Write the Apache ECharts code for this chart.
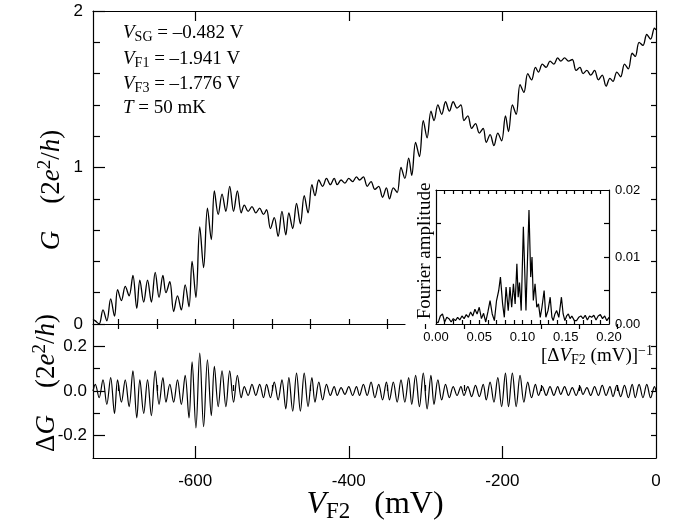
<!DOCTYPE html>
<html>
<head>
<meta charset="utf-8">
<script src="https://cdn.jsdelivr.net/npm/echarts@6/dist/echarts.min.js"></script>
<style>html,body{margin:0;padding:0;background:#fff}#c{width:684px;height:529px}</style>
</head>
<body>
<div id="c"></div>
<script>
// ---- data ----
const vF2 = [
  -733, -730, -725, -720, -715, -710, -705, -701, -696, -691,
  -686, -681, -676, -672, -667, -662, -657, -652, -647, -642,
  -638, -633, -628, -623, -618, -613, -608, -604, -599, -594,
  -589, -584, -579, -575, -570, -565, -560, -555, -550, -545,
  -540, -536, -531, -526, -521, -516, -511, -507, -502, -497,
  -492, -487, -482, -478, -473, -468, -463, -458, -453, -448,
  -444, -439, -434, -429, -424, -419, -415, -410, -405, -400,
  -395, -390, -386, -381, -376, -371, -366, -361, -356, -351,
  -347, -342, -337, -332, -327, -322, -318, -313, -308, -303,
  -298, -293, -289, -284, -279, -274, -269, -264, -259, -254,
  -250, -245, -240, -235, -230, -225, -221, -216, -211, -206,
  -201, -196, -192, -187, -182, -177, -172, -167, -162, -157,
  -153, -148, -143, -138, -133, -128, -124, -119, -114, -109,
  -104, -99, -95, -90, -85, -80, -75, -70, -65, -60,
  -56, -51, -46, -41, -36, -31, -27, -22, -17, -12,
  -7, -2, 0
];
const gValues = [
  0.03, 0.02, 0.00, 0.09, 0.02, 0.16, 0.05, 0.22, 0.15, 0.24,
  0.18, 0.31, 0.10, 0.28, 0.14, 0.28, 0.14, 0.33, 0.17, 0.31,
  0.20, 0.27, 0.08, 0.18, 0.09, 0.25, 0.11, 0.40, 0.17, 0.62,
  0.36, 0.74, 0.54, 0.85, 0.70, 0.83, 0.72, 0.88, 0.72, 0.85,
  0.71, 0.76, 0.72, 0.75, 0.71, 0.74, 0.70, 0.73, 0.61, 0.68,
  0.56, 0.72, 0.57, 0.71, 0.61, 0.77, 0.64, 0.82, 0.71, 0.89,
  0.82, 0.92, 0.88, 0.93, 0.89, 0.93, 0.89, 0.92, 0.90, 0.93,
  0.91, 0.94, 0.92, 0.94, 0.88, 0.91, 0.86, 0.88, 0.81, 0.87,
  0.80, 0.87, 0.84, 1.00, 0.93, 1.06, 0.95, 1.16, 1.07, 1.30,
  1.19, 1.36, 1.30, 1.40, 1.34, 1.42, 1.36, 1.42, 1.38, 1.40,
  1.30, 1.33, 1.25, 1.28, 1.22, 1.25, 1.16, 1.21, 1.14, 1.22,
  1.17, 1.33, 1.23, 1.40, 1.34, 1.53, 1.48, 1.60, 1.56, 1.64,
  1.61, 1.66, 1.64, 1.68, 1.66, 1.70, 1.68, 1.70, 1.68, 1.69,
  1.62, 1.64, 1.60, 1.62, 1.59, 1.62, 1.56, 1.59, 1.52, 1.57,
  1.55, 1.61, 1.58, 1.66, 1.63, 1.73, 1.71, 1.80, 1.78, 1.85,
  1.82, 1.89, 1.88
];
const dgValues = [
  0.00, 0.03, -0.03, 0.05, -0.06, 0.06, -0.10, 0.05, -0.05, 0.05,
  -0.07, 0.09, -0.12, 0.05, -0.10, 0.05, -0.11, 0.09, -0.06, 0.06,
  -0.05, 0.03, -0.05, 0.05, -0.06, 0.07, -0.12, 0.13, -0.165, 0.17,
  -0.16, 0.14, -0.11, 0.11, -0.07, 0.09, -0.07, 0.09, -0.05, 0.07,
  -0.03, 0.02, -0.02, 0.03, -0.02, 0.03, -0.03, 0.03, -0.03, 0.04,
  -0.04, 0.05, -0.08, 0.06, -0.09, 0.08, -0.09, 0.08, -0.07, 0.06,
  -0.05, 0.04, -0.04, 0.03, -0.02, 0.02, -0.02, 0.015, -0.015, 0.02,
  -0.02, 0.02, -0.02, 0.03, -0.02, 0.04, -0.03, 0.03, -0.04, 0.04,
  -0.04, 0.04, -0.05, 0.05, -0.05, 0.06, -0.06, 0.07, -0.07, 0.08,
  -0.08, 0.07, -0.06, 0.05, -0.04, 0.03, -0.03, 0.02, -0.02, 0.02,
  -0.02, 0.02, -0.025, 0.025, -0.025, 0.03, -0.04, 0.04, -0.05, 0.06,
  -0.07, 0.08, -0.07, 0.08, -0.07, 0.07, -0.05, 0.04, -0.03, 0.03,
  -0.02, 0.02, -0.02, 0.02, -0.02, 0.02, -0.015, 0.02, -0.02, 0.015,
  -0.02, 0.02, -0.015, 0.015, -0.02, 0.02, -0.02, 0.025, -0.02, 0.02,
  -0.025, 0.025, -0.025, 0.025, -0.03, 0.03, -0.03, 0.03, -0.03, 0.03,
  -0.03, 0.02, 0.00
];
const fourierFreq = [
  0, 0.0025, 0.005, 0.0075, 0.01, 0.0125, 0.015, 0.0175, 0.02, 0.0225,
  0.025, 0.0275, 0.03, 0.0325, 0.035, 0.0375, 0.04, 0.0425, 0.045, 0.0475,
  0.05, 0.0525, 0.055, 0.0575, 0.06, 0.0625, 0.065, 0.0675, 0.07, 0.0725,
  0.0745, 0.077, 0.079, 0.081, 0.0835, 0.0855, 0.0875, 0.0895, 0.0915, 0.0935,
  0.095, 0.0965, 0.0985, 0.101, 0.104, 0.1075, 0.1095, 0.111, 0.1125, 0.1145,
  0.1165, 0.1185, 0.1205, 0.1225, 0.125, 0.127, 0.1295, 0.132, 0.134, 0.1355,
  0.1375, 0.1395, 0.142, 0.145, 0.147, 0.149, 0.151, 0.153, 0.155, 0.157,
  0.16, 0.1625, 0.165, 0.1675, 0.17, 0.1725, 0.175, 0.1775, 0.18, 0.1825,
  0.185, 0.1875, 0.19, 0.1925, 0.195, 0.1975, 0.2
];
const fourierAmp = [
  0.0003, 0.0002, 0.0012, 0.0015, 0.0003, 0.0010, 0.0008, 0.0003, 0.0008, 0.0005,
  0.0010, 0.0006, 0.0012, 0.0008, 0.0014, 0.0010, 0.0018, 0.0012, 0.0022, 0.0015,
  0.0025, 0.0008, 0.0016, 0.0003, 0.0018, 0.0035, 0.0015, 0.0005, 0.0035, 0.0050,
  0.0070, 0.0030, 0.0010, 0.0055, 0.0020, 0.0055, 0.0025, 0.0060, 0.0030, 0.0090,
  0.0040, 0.0062, 0.0020, 0.0145, 0.0020, 0.0170, 0.0070, 0.0100, 0.0035, 0.0060,
  0.0025, 0.0030, 0.0010, 0.0025, 0.0050, 0.0010, 0.0020, 0.0040, 0.0010, 0.0005,
  0.0015, 0.0020, 0.0010, 0.0040, 0.0015, 0.0005, 0.0012, 0.0015, 0.0008, 0.0012,
  0.0005, 0.0005, 0.0010, 0.0012, 0.0008, 0.0013, 0.0006, 0.0012, 0.0010, 0.0013,
  0.0006, 0.0012, 0.0014, 0.0008, 0.0012, 0.0005, 0.0010
];
// axis ranges and tick values
const xRange = [-733, 0];
const baselineEnd = -327;
const xLabelValues = [-600, -400, -200, 0];
const xMajorTicks = [-600, -400, -200];
const xMinorTicks = [-700, -650, -550, -500, -450, -350, -300, -250, -150, -100, -50];
const baseTicks = [-700, -650, -600, -550, -500, -450, -400, -350];
const gLabelValues = [0, 1, 2];
const gMinorTicks = [0.2, 0.4, 0.6, 0.8, 1.2, 1.4, 1.6, 1.8];
const gRightTicks = [0.2, 0.4, 0.6, 0.8, 1.0, 1.2, 1.4, 1.6, 1.8];
const dgLabelValues = [-0.2, 0, 0.2];
const dgMinorTicks = [-0.1, 0.1];
const dgRightTicks = [-0.2, -0.1, 0, 0.1, 0.2];
const insetXLabels = [0, 0.05, 0.1, 0.15, 0.2];
const insetXTicks = [0.01, 0.02, 0.03, 0.04, 0.05, 0.06, 0.07, 0.08, 0.09, 0.1, 0.11, 0.12, 0.13, 0.14, 0.15, 0.16, 0.17, 0.18, 0.19];
const insetYLabels = [0, 0.01, 0.02];
const insetYTicks = [0.005, 0.01, 0.015];

// ---- chart ----
const SANS = 'Liberation Sans';
const SERIF = 'Liberation Serif';
const BLACK = '#000';

function tick(values, len) {
  return { show: true, inside: true, length: len, customValues: values, lineStyle: { color: BLACK, width: 1.2 } };
}
function lab(values, margin, fmt, size, inside) {
  return { show: true, inside: !!inside, customValues: values, margin: margin, formatter: fmt, color: BLACK, fontFamily: SANS, fontSize: size };
}
function ax(gi, pos, min, max, o) {
  return Object.assign({
    type: 'value', gridIndex: gi, position: pos, min: min, max: max,
    splitLine: { show: false },
    axisLine: { show: true, onZero: false, lineStyle: { color: BLACK, width: 1.2 } },
    axisLabel: { show: false },
    axisTick: { show: false }
  }, o || {});
}
const noLine = { show: false };
const hidden = { show: false };

// rectangles of the panels; the narrow strips carry the inward ticks of the right-hand borders
const upperRect = { left: 93, top: 11, width: 563, height: 313 };
const upperStrip = { left: 651, top: 11, width: 5, height: 313 };
const lowerRect = { left: 93, top: 324, width: 563, height: 134 };
const lowerStrip = { left: 651, top: 324, width: 5, height: 134 };
const baseRect = { left: 93, top: 11, width: 312, height: 313 };
const insetRect = { left: 436, top: 190, width: 173, height: 134 };
const insetStrip = { left: 604, top: 190, width: 5, height: 134 };
const grids = [upperRect, upperRect, upperStrip, baseRect, lowerRect, lowerRect, lowerStrip,
               insetRect, insetRect, insetStrip]
  .map(r => Object.assign({ outerBoundsMode: 'none', containLabel: false }, r));

const xAxes = [
  ax(0, 'top', xRange[0], xRange[1], { axisTick: tick(xMajorTicks, 10) }),
  ax(1, 'top', xRange[0], xRange[1], { axisLine: noLine, axisTick: tick(xMinorTicks, 5) }),
  ax(2, 'bottom', 0, 1, hidden),
  ax(3, 'bottom', xRange[0], baselineEnd, { axisTick: tick(baseTicks, 5) }),
  ax(4, 'bottom', xRange[0], xRange[1], { axisTick: tick(xMajorTicks, 12),
       axisLabel: lab(xLabelValues, 15, v => String(v), 17) }),
  ax(5, 'bottom', xRange[0], xRange[1], { axisLine: noLine, axisTick: tick(xMinorTicks, 6) }),
  ax(6, 'bottom', 0, 1, hidden),
  ax(7, 'bottom', 0, 0.2, { axisTick: tick(insetXTicks, 4),
       axisLabel: lab(insetXLabels, 7, v => Number(v).toFixed(2), 13) }),
  ax(8, 'top', 0, 0.2, { axisTick: tick(insetXTicks, 4) }),
  ax(9, 'bottom', 0, 1, hidden)
];
const yAxes = [
  ax(0, 'left', 0, 2, { axisTick: tick(gLabelValues, 12), axisLabel: lab(gLabelValues, 10, v => String(v), 17) }),
  ax(1, 'right', 0, 2, {}),                                    // right border line of the upper panel
  ax(2, 'left', 0, 2, { axisLine: noLine, axisTick: tick(gRightTicks, 5) }),
  ax(3, 'left', 0, 2, hidden),
  ax(4, 'left', -0.3, 0.3, { axisTick: tick(dgLabelValues, 12),
       axisLabel: lab(dgLabelValues, 6, v => Number(v).toFixed(1), 17) }),
  ax(5, 'right', -0.3, 0.3, {}),                               // right border line of the lower panel
  ax(6, 'left', -0.3, 0.3, { axisLine: noLine, axisTick: tick(dgRightTicks, 5) }),
  ax(7, 'left', 0, 0.02, { axisTick: tick(insetYTicks, 5) }),
  ax(8, 'right', 0, 0.02, { axisLabel: lab(insetYLabels, 6, v => Number(v).toFixed(2), 13) }),
  ax(9, 'left', 0, 0.02, { axisLine: noLine, axisTick: tick(insetYTicks, 5) })
];
// minor left ticks of the two main panels (own grids so they do not share a side with the labelled axes)
grids.push(Object.assign({ outerBoundsMode: 'none', containLabel: false }, upperRect));
grids.push(Object.assign({ outerBoundsMode: 'none', containLabel: false }, lowerRect));
xAxes.push(ax(10, 'bottom', 0, 1, hidden), ax(11, 'bottom', 0, 1, hidden));
yAxes.push(ax(10, 'left', 0, 2, { axisLine: noLine, axisTick: tick(gMinorTicks, 7) }),
           ax(11, 'left', -0.3, 0.3, { axisLine: noLine, axisTick: tick(dgMinorTicks, 7) }));

function rt(size, subRatio) {
  const ss = Math.round(size * subRatio);
  return {
    n: { fontFamily: SERIF, fontSize: size, fill: BLACK, color: BLACK },
    i: { fontFamily: SERIF, fontStyle: 'italic', fontSize: size, fill: BLACK, color: BLACK },
    s: { fontFamily: SERIF, fontSize: ss, fill: BLACK, color: BLACK, padding: [Math.round(size * 0.45), 0, 0, 0] },
    sp: { fontFamily: SERIF, fontSize: ss, fill: BLACK, color: BLACK, padding: [0, 0, Math.round(size * 0.5), 0] }
  };
}
function txt(x, y, text, size, align, rot, subRatio) {
  return {
    type: 'text', x: x, y: y, rotation: rot || 0, silent: true,
    style: { text: text, rich: rt(size, subRatio || 0.72), fill: BLACK, font: size + 'px ' + SERIF,
             align: align, verticalAlign: 'middle', textAlign: align, textVerticalAlign: 'middle' }
  };
}

const chart = echarts.init(document.getElementById('c'), null, { renderer: 'canvas' });
chart.setOption({
  animation: false,
  backgroundColor: '#fff',
  grid: grids,
  xAxis: xAxes,
  yAxis: yAxes,
  series: [
    { type: 'line', xAxisIndex: 0, yAxisIndex: 0, data: vF2.map((v, i) => [v, gValues[i]]),
      showSymbol: false, smooth: 0.35, lineStyle: { color: BLACK, width: 1.3 } },
    { type: 'line', xAxisIndex: 4, yAxisIndex: 4, data: vF2.map((v, i) => [v, dgValues[i]]),
      showSymbol: false, smooth: 0.35, lineStyle: { color: BLACK, width: 1.2 } },
    { type: 'line', xAxisIndex: 7, yAxisIndex: 7, data: fourierFreq.map((f, i) => [f, fourierAmp[i]]),
      showSymbol: false, smooth: false, lineStyle: { color: BLACK, width: 1.2 } }
  ],
  graphic: [
    txt(123, 33, '{i|V}{s|SG}{n| = –0.482 V}', 19, 'left', 0, 0.75),
    txt(123, 59, '{i|V}{s|F1}{n| = –1.941 V}', 19, 'left', 0, 0.75),
    txt(123, 84, '{i|V}{s|F3}{n| = –1.776 V}', 19, 'left', 0, 0.75),
    txt(123, 108, '{i|T}{n| = 50 mK}', 19, 'left', 0, 0.75),
    txt(52, 190, '{i|G}{n|    (2}{i|e}{sp|2}{n|/}{i|h}{n|)}', 27, 'center', Math.PI / 2),
    txt(47, 383, '{n|Δ}{i|G}{n|    (2}{i|e}{sp|2}{n|/}{i|h}{n|)}', 27, 'center', Math.PI / 2),
    txt(375, 505, '{i|V}{s|F2}{n|   (mV)}', 32, 'center'),
    txt(653, 356, '{n|[Δ}{i|V}{s|F2}{n| (mV)]}{sp|−1}', 19, 'right'),
    txt(425, 251, '{n|Fourier amplitude}', 19, 'center', Math.PI / 2)
  ]
});
</script>
</body>
</html>
